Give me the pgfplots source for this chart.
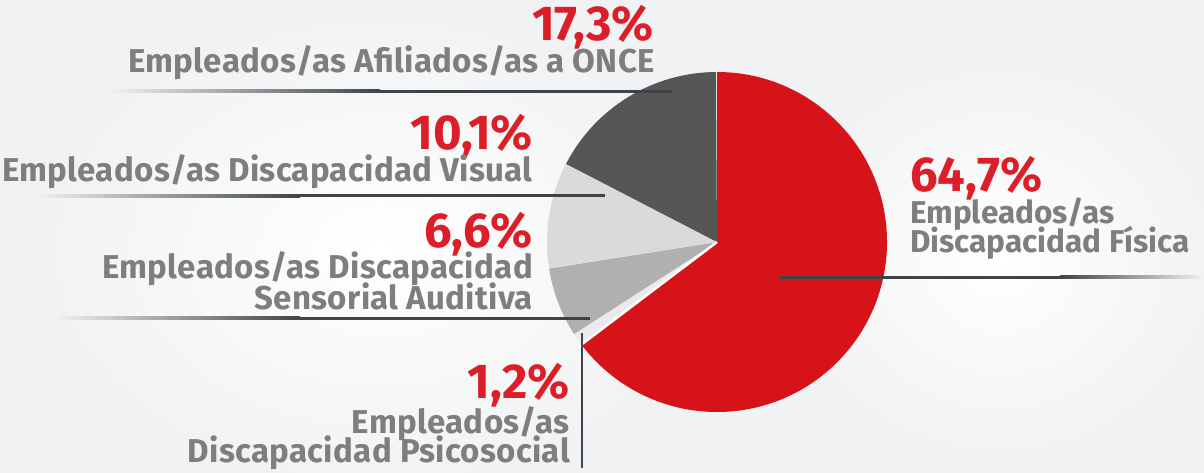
\documentclass[border=0pt]{standalone}
\usepackage{pgfplots}
\pgfplotsset{compat=1.18}
\usepackage{fontspec}
\setmainfont{Fira Sans}
\newfontfamily\lblfam{Fira Sans}[LetterSpace=1.0]
\definecolor{bg}{RGB}{241,242,243}
\definecolor{pred}{RGB}{213,19,24}
\definecolor{pdark}{RGB}{86,86,86}
\definecolor{plight}{RGB}{218,218,218}
\definecolor{pmid}{RGB}{176,176,176}
\definecolor{pwhite}{RGB}{234,234,234}
\definecolor{lbl}{RGB}{126,126,126}
\definecolor{pct}{RGB}{220,30,40}
\definecolor{ln}{RGB}{62,68,74}
\newcommand{\lblfont}{\lblfam\fontsize{33}{35}\selectfont\bfseries\color{lbl}}
\newcommand{\rlblfont}{\fontsize{31.5}{33}\selectfont\bfseries\color{lbl}}
\newcommand{\pctfont}{\fontsize{49}{51}\selectfont\bfseries\color{pct}}
\tikzset{pctn/.style={inner sep=0pt,font=\pctfont,text depth=0pt,text height=30pt},
         lbln/.style={inner sep=0pt,font=\lblfont,text height=20pt,text depth=2pt},
         rlbln/.style={inner sep=0pt,font=\rlblfont,text height=20pt,text depth=2pt}}
\begin{document}
\begin{tikzpicture}
\begin{axis}[width=1204pt,height=473pt,scale only axis,
  xmin=0,xmax=1204,ymin=0,ymax=473,y dir=reverse,
  hide axis,clip=false]
% background
\fill[bg] (axis cs:0,0) rectangle (axis cs:1204,473);
\shade[overlay,inner color=white,outer color=bg] (axis cs:380,250) ellipse[x radius=340pt,y radius=240pt];
\shade[overlay,inner color=white,outer color=bg] (axis cs:1000,260) ellipse[x radius=220pt,y radius=200pt];
% pie: value/colour, starting at 90 deg, clockwise
\pgfplotsextra{
\foreach \val/\col [remember=\en as \st (initially 90)] in {64.7/pred,1.2/pwhite,6.6/pmid,10.1/plight,17.3/pdark}{
  \pgfmathsetmacro{\en}{\st-3.6*\val}
  \fill[color=\col] (axis cs:717,242) -- ++(\st:170pt) arc[start angle=\st, end angle=\en, radius=170pt] -- cycle;
}
\draw[white,line width=2.5pt] (axis cs:717,242) -- ++(217.1:172pt);
}
% leader lines
\shade[left color=bg,right color=ln] (axis cs:110,90) rectangle (axis cs:380,93);
\fill[ln] (axis cs:380,90) rectangle (axis cs:672,93);
\shade[left color=bg,right color=ln] (axis cs:35,194.5) rectangle (axis cs:300,197.5);
\fill[ln] (axis cs:300,194.5) rectangle (axis cs:605,197.5);
\shade[left color=bg,right color=ln] (axis cs:55,316.5) rectangle (axis cs:300,319.5);
\fill[ln] (axis cs:300,316.5) rectangle (axis cs:590,319.5);
\fill[ln] (axis cs:780,275.5) rectangle (axis cs:1060,278.5);
\shade[left color=ln,right color=bg] (axis cs:1060,275.5) rectangle (axis cs:1204,278.5);
\fill[ln] (axis cs:580.5,333) rectangle (axis cs:583,468);
% labels
\node[anchor=base east,pctn] at (axis cs:654,41) {17,3\%};
\node[anchor=base east,lbln] at (axis cs:655,73) {Empleados/as Afiliados/as a ONCE};
\node[anchor=base east,pctn] at (axis cs:533,150) {10,1\%};
\node[anchor=base east,lbln] at (axis cs:533,182) {Empleados/as Discapacidad Visual};
\node[anchor=base east,pctn] at (axis cs:533,247) {6,6\%};
\node[anchor=base east,lbln] at (axis cs:533,278) {Empleados/as Discapacidad};
\node[anchor=base east,lbln] at (axis cs:533,309) {Sensorial Auditiva};
\node[anchor=base west,pctn] at (axis cs:910,192) {64,7\%};
\node[anchor=base west,rlbln] at (axis cs:910,223) {Empleados/as};
\node[anchor=base west,rlbln] at (axis cs:910,252) {Discapacidad Física};
\node[anchor=base east,pctn] at (axis cs:570,398) {1,2\%};
\node[anchor=base east,lbln] at (axis cs:570,433) {Empleados/as};
\node[anchor=base east,lbln] at (axis cs:570,462) {Discapacidad Psicosocial};
\end{axis}
\pgfresetboundingbox
\path[use as bounding box] (current axis.south west) rectangle (current axis.north east);
\end{tikzpicture}
\end{document}
